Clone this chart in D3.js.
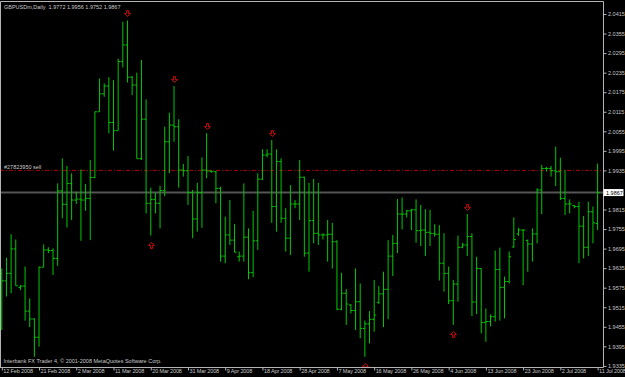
<!DOCTYPE html>
<html>
<head>
<meta charset="utf-8">
<script src="https://cdn.jsdelivr.net/npm/d3@7"></script>
<style>
  body { margin: 0; background: #000; }
  svg { display: block; }
  text { font-family: "Liberation Sans", Arial, sans-serif; font-size: 5.5px; fill: #c8c8c8; }
</style>
</head>
<body>
<svg id="chart"></svg>
<script>
var svgWidth = 625;
var svgHeight = 377;

// daily GBPUSD bars, 12 Feb 2008 .. 11 Jul 2008 (Sunday bars included)
var opens = [1.9620,1.9596,1.9619,1.9694,1.9576,1.9580,1.9503,1.9479,1.9423,1.9638,
  1.9691,1.9689,1.9665,1.9872,1.9831,1.9895,1.9844,1.9847,1.9844,1.9849,
  1.9913,2.0115,2.0170,2.0194,2.0082,2.0057,2.0269,2.0320,2.0221,2.0197,
  1.9971,2.0092,1.9834,1.9846,1.9834,1.9873,2.0023,2.0074,2.0069,1.9936,
  1.9934,1.9867,1.9786,1.9867,1.9936,1.9933,1.9931,1.9880,1.9672,1.9737,
  1.9721,1.9670,1.9672,1.9730,1.9621,1.9719,1.9908,1.9982,1.9985,1.9824,
  1.9962,1.9788,1.9727,1.9832,1.9832,1.9914,1.9681,1.9781,1.9742,1.9737,
  1.9737,1.9739,1.9716,1.9509,1.9558,1.9522,1.9505,1.9532,1.9450,1.9464,
  1.9478,1.9530,1.9556,1.9570,1.9672,1.9711,1.9801,1.9801,1.9811,1.9814,
  1.9750,1.9752,1.9745,1.9742,1.9739,1.9650,1.9619,1.9535,1.9586,1.9699,
  1.9706,1.9732,1.9531,1.9634,1.9468,1.9471,1.9486,1.9631,1.9576,1.9594,
  1.9700,1.9740,1.9752,1.9720,1.9709,1.9740,1.9875,1.9941,1.9941,1.9934,
  1.9931,1.9849,1.9832,1.9827,1.9824,1.9764,1.9699,1.9808,1.9772];

var highs = [1.9634,1.9667,1.9739,1.9723,1.9583,1.9640,1.9542,1.9481,1.9640,1.9708,
  1.9699,1.9696,1.9895,1.9972,1.9949,1.9926,1.9870,1.9938,1.9893,1.9967,
  2.0115,2.0217,2.0202,2.0221,2.0212,2.0278,2.0391,2.0395,2.0225,2.0235,
  2.0274,2.0153,1.9882,1.9867,1.9888,2.0069,2.0112,2.0194,2.0092,1.9955,
  1.9979,1.9875,1.9897,1.9975,2.0049,1.9936,1.9934,1.9885,1.9793,1.9844,
  1.9770,1.9686,1.9895,1.9757,1.9811,1.9926,2.0000,2.0000,2.0028,2.0000,
  1.9972,1.9819,1.9890,1.9844,1.9967,1.9916,1.9897,1.9909,1.9897,1.9742,
  1.9783,1.9774,1.9721,1.9621,1.9571,1.9525,1.9634,1.9588,1.9474,1.9503,
  1.9599,1.9580,1.9624,1.9721,1.9737,1.9847,1.9852,1.9814,1.9817,1.9846,
  1.9829,1.9816,1.9814,1.9770,1.9767,1.9742,1.9640,1.9599,1.9735,1.9713,
  1.9801,1.9742,1.9670,1.9634,1.9511,1.9493,1.9689,1.9698,1.9609,1.9686,
  1.9791,1.9759,1.9754,1.9723,1.9757,1.9880,1.9952,1.9946,1.9949,2.0008,
  1.9974,1.9936,1.9846,1.9829,1.9839,1.9795,1.9839,1.9824,1.9956];

var lows = [1.9445,1.9548,1.9558,1.9581,1.9568,1.9474,1.9454,1.9363,1.9394,1.9638,
  1.9681,1.9614,1.9642,1.9788,1.9760,1.9783,1.9832,1.9719,1.9811,1.9721,
  1.9911,2.0115,2.0161,2.0049,1.9996,2.0057,2.0251,2.0205,2.0166,1.9971,
  1.9967,1.9803,1.9735,1.9803,1.9757,1.9856,1.9926,2.0023,1.9882,1.9916,
  1.9829,1.9727,1.9747,1.9759,1.9911,1.9928,1.9834,1.9655,1.9650,1.9706,
  1.9684,1.9655,1.9655,1.9601,1.9607,1.9691,1.9906,1.9975,1.9774,1.9747,
  1.9774,1.9686,1.9675,1.9819,1.9783,1.9670,1.9624,1.9711,1.9706,1.9723,
  1.9655,1.9634,1.9506,1.9506,1.9461,1.9496,1.9445,1.9420,1.9363,1.9404,
  1.9440,1.9525,1.9454,1.9478,1.9611,1.9681,1.9754,1.9791,1.9752,1.9713,
  1.9703,1.9672,1.9703,1.9732,1.9597,1.9563,1.9525,1.9461,1.9532,1.9696,
  1.9672,1.9488,1.9494,1.9435,1.9409,1.9456,1.9471,1.9474,1.9481,1.9588,
  1.9698,1.9734,1.9583,1.9624,1.9655,1.9711,1.9801,1.9931,1.9916,1.9887,
  1.9844,1.9798,1.9803,1.9819,1.9650,1.9665,1.9672,1.9711,1.9752];

var closes = [1.9596,1.9619,1.9694,1.9581,1.9580,1.9503,1.9479,1.9423,1.9638,1.9691,
  1.9689,1.9665,1.9872,1.9831,1.9895,1.9844,1.9847,1.9844,1.9849,1.9913,
  2.0115,2.0170,2.0194,2.0082,2.0057,2.0269,2.0320,2.0221,2.0197,1.9971,
  2.0092,1.9834,1.9846,1.9834,1.9873,2.0023,2.0074,2.0069,1.9936,1.9934,
  1.9867,1.9786,1.9867,1.9936,1.9933,1.9931,1.9880,1.9672,1.9737,1.9721,
  1.9684,1.9672,1.9730,1.9621,1.9719,1.9908,1.9982,1.9985,1.9824,1.9962,
  1.9788,1.9727,1.9832,1.9832,1.9914,1.9681,1.9781,1.9742,1.9737,1.9737,
  1.9739,1.9716,1.9509,1.9558,1.9525,1.9505,1.9532,1.9450,1.9464,1.9478,
  1.9491,1.9556,1.9570,1.9672,1.9711,1.9801,1.9801,1.9811,1.9814,1.9750,
  1.9752,1.9745,1.9742,1.9739,1.9650,1.9619,1.9535,1.9586,1.9699,1.9706,
  1.9732,1.9531,1.9634,1.9468,1.9471,1.9486,1.9631,1.9576,1.9594,1.9670,
  1.9723,1.9752,1.9752,1.9709,1.9740,1.9875,1.9941,1.9941,1.9934,1.9931,
  1.9849,1.9832,1.9832,1.9824,1.9764,1.9699,1.9808,1.9774,1.9867];

// fractal arrows (bar index)
var fractalUp = [27, 37, 44, 58, 100];
var fractalDown = [32, 78, 97];

// axis labels (1.9875 sits under the last price box)
var priceTicks = [1.9335, 1.9395, 1.9455, 1.9515, 1.9575, 1.9635, 1.9695, 1.9755, 1.9815,
  1.9935, 1.9995, 2.0055, 2.0115, 2.0175, 2.0235, 2.0295, 2.0355, 2.0415];
var dateTickBars = [0, 8, 16, 24, 32, 40, 48, 56, 64, 72, 80, 88, 96, 104, 112, 120, 128];
var dateLabels = ["12 Feb 2008", "21 Feb 2008", "2 Mar 2008", "11 Mar 2008", "20 Mar 2008",
  "31 Mar 2008", "9 Apr 2008", "18 Apr 2008", "28 Apr 2008", "7 May 2008", "16 May 2008",
  "26 May 2008", "4 Jun 2008", "13 Jun 2008", "23 Jun 2008", "2 Jul 2008", "11 Jul 2008"];

var symbol = "GBPUSDm,Daily";
var lastPrice = 1.9867;
var orderPrice = 1.9935;
var orderLabel = "#27823950 sell";
var copyright = "Interbank FX Trader 4, \u00a9 2001-2008 MetaQuotes Software Corp.";

var plotRight = 603;
var plotBottom = 367;

var svg = d3.select("#chart")
  .attr("width", svgWidth)
  .attr("height", svgHeight);

svg.append("rect")
  .attr("width", svgWidth)
  .attr("height", svgHeight)
  .attr("fill", "#000");

var xScale = d3.scaleLinear().domain([0, opens.length - 1]).range([1.8, 597.6]);
var yScale = d3.scaleLinear().domain([1.9335, 2.0415]).range([365.9, 14]);

svg.append("clipPath").attr("id", "plot-clip")
  .append("rect").attr("x", 0).attr("y", 2).attr("width", plotRight).attr("height", plotBottom - 2);

var plot = svg.append("g").attr("clip-path", "url(#plot-clip)");

// last price line (grey) and order line (red dash-dot)
plot.append("line")
  .attr("x1", 0).attr("x2", plotRight)
  .attr("y1", yScale(lastPrice)).attr("y2", yScale(lastPrice))
  .attr("stroke", "#555").attr("stroke-width", 2);

plot.append("line")
  .attr("x1", 0).attr("x2", plotRight)
  .attr("y1", yScale(orderPrice)).attr("y2", yScale(orderPrice))
  .attr("stroke", "#b00000").attr("stroke-width", 1)
  .attr("stroke-dasharray", "4,2,1,2");

// OHLC bars
var bars = plot.selectAll(".bar")
  .data(opens.map(function(o, i) {
    return { i: i, o: o, h: highs[i], l: lows[i], c: closes[i] };
  }))
  .enter()
  .append("g")
  .attr("class", "bar")
  .attr("stroke", "#00c800")
  .attr("stroke-width", 1);

bars.append("line")
  .attr("x1", d => xScale(d.i)).attr("x2", d => xScale(d.i))
  .attr("y1", d => yScale(d.h)).attr("y2", d => yScale(d.l));

bars.append("line")
  .attr("x1", d => xScale(d.i) - 2).attr("x2", d => xScale(d.i))
  .attr("y1", d => yScale(d.o)).attr("y2", d => yScale(d.o));

bars.append("line")
  .attr("x1", d => xScale(d.i)).attr("x2", d => xScale(d.i) + 2)
  .attr("y1", d => yScale(d.c)).attr("y2", d => yScale(d.c));

// fractal arrows, snapped to the pixel grid so the outline stays sharp
function arrowPath(cx, cy, down) {
  cx = Math.round(cx) + 0.5;
  cy = Math.round(cy) + 0.5;
  var s = down ? 1 : -1;
  return "M" + (cx - 1) + "," + (cy - 3 * s) +
    "h2v" + (3 * s) + "h2l-3," + (3 * s) + "l-3," + (-3 * s) + "h2z";
}

plot.selectAll(".frac-up")
  .data(fractalUp)
  .enter()
  .append("path")
  .attr("d", i => arrowPath(xScale(i), yScale(highs[i]) - 7.5, true))
  .attr("fill", "#000").attr("stroke", "#c80000").attr("stroke-width", 1);

plot.selectAll(".frac-down")
  .data(fractalDown)
  .enter()
  .append("path")
  .attr("d", i => arrowPath(xScale(i), yScale(lows[i]) + 9, false))
  .attr("fill", "#000").attr("stroke", "#c80000").attr("stroke-width", 1);

// frame
svg.append("path")
  .attr("d", "M0.5," + plotBottom + "V1.5H" + (plotRight + 0.5) + "V" + (plotBottom + 0.5) + "H0")
  .attr("fill", "none").attr("stroke", "#b4b4b4").attr("stroke-width", 1);

// price axis
var yAxis = svg.append("g")
  .attr("transform", `translate(${plotRight + 0.5}, 0)`)
  .call(d3.axisRight(yScale).tickValues(priceTicks).tickSize(3).tickPadding(1.5)
    .tickFormat(d3.format(".4f")));
yAxis.select(".domain").remove();
yAxis.selectAll("line").attr("stroke", "#b4b4b4");
yAxis.selectAll("text").attr("fill", "#c8c8c8").attr("font-size", "5.5px")
  .attr("font-family", "'Liberation Sans', Arial, sans-serif");

// date axis
var xAxis = svg.append("g")
  .attr("transform", `translate(0, ${plotBottom + 0.5})`)
  .call(d3.axisBottom(xScale).tickValues(dateTickBars).tickSize(3)
    .tickFormat((d, i) => dateLabels[i]));
xAxis.select(".domain").remove();
xAxis.selectAll("line").attr("stroke", "#b4b4b4");
xAxis.selectAll("text")
  .attr("text-anchor", "start")
  .attr("x", 1).attr("y", 2).attr("dy", "0.71em")
  .attr("letter-spacing", "-0.12px")
  .attr("fill", "#c8c8c8").attr("font-size", "5.3px")
  .attr("font-family", "'Liberation Sans', Arial, sans-serif");

// last price box
var lastY = yScale(lastPrice);
svg.append("rect")
  .attr("x", plotRight + 0.5).attr("y", lastY - 3.5)
  .attr("width", 20).attr("height", 7)
  .attr("fill", "#fff");
svg.append("text")
  .attr("x", plotRight + 3).attr("y", lastY + 2)
  .style("fill", "#000")
  .text(lastPrice.toFixed(4));

// header, order label, footer
svg.append("text")
  .attr("x", 4).attr("y", 8.5)
  .attr("xml:space", "preserve")
  .text(symbol + "  " + [opens[opens.length - 1], highs[highs.length - 1],
    lows[lows.length - 1], closes[closes.length - 1]].map(v => v.toFixed(4)).join(" "));

svg.append("text")
  .attr("x", 4).attr("y", yScale(orderPrice) - 1.5)
  .text(orderLabel);

svg.append("text")
  .attr("x", 3.5).attr("y", 363)
  .text(copyright);
</script>
</body>
</html>
